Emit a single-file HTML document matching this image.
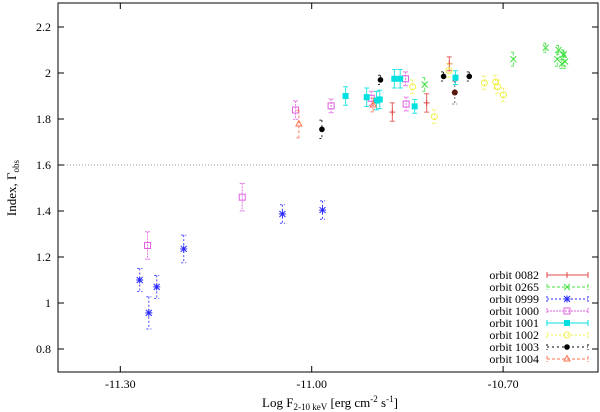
<!DOCTYPE html>
<html><head><meta charset="utf-8">
<style>
body{margin:0;background:#fff;}
svg{display:block;font-family:"Liberation Serif",serif;}
</style></head>
<body>
<svg id="chart" width="600" height="412" xmlns="http://www.w3.org/2000/svg"></svg>
<script>
const xTicks=[-11.30,-11.00,-10.70];
const xTickLabels=["-11.30","-11.00","-10.70"];
const yTicks=[0.8,1,1.2,1.4,1.6,1.8,2,2.2];
const yTickLabels=["0.8","1","1.2","1.4","1.6","1.8","2","2.2"];
const seriesNames=["orbit 0082","orbit 0265","orbit 0999","orbit 1000","orbit 1001","orbit 1002","orbit 1003","orbit 1004"];
const x0082=[-10.8736,-10.8198,-10.7843];
const y0082=[1.83,1.87,2.04];
const e0082=[0.04,0.04,0.03];
const x0265=[-10.8229,-10.6839,-10.6332,-10.6130,-10.6150,-10.6059,-10.6028,-10.6079,-10.6049];
const y0265=[1.95,2.06,2.11,2.10,2.06,2.08,2.05,2.04,2.08];
const e0265=[0.03,0.03,0.02,0.02,0.03,0.02,0.03,0.02,0.02];
const x0999=[-11.2696,-11.2553,-11.2429,-11.2006,-11.0459,-10.9830];
const y0999=[1.10,0.957,1.07,1.235,1.387,1.404];
const e0999=[0.05,0.07,0.05,0.06,0.04,0.04];
const x1000=[-11.2573,-11.1089,-11.0253,-10.9696,-10.9066,-10.8530,-10.8520];
const y1000=[1.25,1.46,1.839,1.857,1.89,1.975,1.865];
const e1000=[0.06,0.06,0.04,0.03,0.03,0.03,0.03];
const x1001=[-10.9469,-10.9138,-10.8984,-10.8933,-10.8705,-10.8613,-10.8386,-10.7746];
const y1001=[1.90,1.895,1.88,1.885,1.975,1.975,1.855,1.98];
const e1001=[0.04,0.04,0.04,0.04,0.04,0.04,0.03,0.03];
const x1002=[-10.8417,-10.8077,-10.7849,-10.7293,-10.7117,-10.7087,-10.6994];
const y1002=[1.94,1.81,2.01,1.957,1.961,1.94,1.905];
const e1002=[0.03,0.03,0.03,0.03,0.03,0.03,0.03];
const x1003=[-10.9840,-10.8922,-10.7933,-10.7530];
const y1003=[1.755,1.970,1.985,1.985];
const e1003=[0.04,0.02,0.02,0.02];
const x1003b=[-10.7757];
const y1003b=[1.915];
const e1003b=[0.05];
const x1004=[-11.0201,-10.9036];
const y1004=[1.778,1.861];
const e1004=[0.06,0.03];

const L=58,R=598,T=3,B=372;
function sx(v){return 311.7+(v+11.0)*638;}
function sy(v){return 73+(2.0-v)*230;}
const svg=document.getElementById('chart');
const NS="http://www.w3.org/2000/svg";
function mk(tag,attrs,parent){const e=document.createElementNS(NS,tag);for(const k in attrs)e.setAttribute(k,attrs[k]);(parent||svg).appendChild(e);return e;}

const frame=mk('rect',{x:L,y:T,width:R-L,height:B-T,fill:'none',stroke:'#000','stroke-width':1});


const ref=mk('line',{x1:L,x2:R,y1:sy(1.6),y2:sy(1.6),stroke:'#999','stroke-dasharray':'1,2'});



yTicks.forEach((v,i)=>{
  const y=sy(v);
  mk('line',{x1:L,x2:L+6,y1:y,y2:y,stroke:'#000'});
  mk('line',{x1:R-6,x2:R,y1:y,y2:y,stroke:'#000'});
  const t=mk('text',{x:L-7,y:y+4,'text-anchor':'end','font-size':12});
  t.textContent=yTickLabels[i];
  
  
});
xTicks.forEach((v,i)=>{
  const x=sx(v);
  mk('line',{x1:x,x2:x,y1:B,y2:B-6,stroke:'#000'});
  mk('line',{x1:x,x2:x,y1:T,y2:T+6,stroke:'#000'});
  const t=mk('text',{x:x,y:B+16,'text-anchor':'middle','font-size':12});
  t.textContent=xTickLabels[i];
  
  
});

const xt=mk('text',{x:330,y:407,'text-anchor':'middle','font-size':13});
xt.innerHTML='Log F<tspan font-size="9" dy="3">2-10 keV</tspan><tspan dy="-3"> [erg cm</tspan><tspan font-size="9" dy="-5">-2</tspan><tspan dy="5"> s</tspan><tspan font-size="9" dy="-5">-1</tspan><tspan dy="5">]</tspan>';


const yt=mk('text',{x:0,y:0,'text-anchor':'middle','font-size':13,transform:'translate(16,188) rotate(-90)'});
yt.innerHTML='Index, Γ<tspan font-size="9" dy="3">obs</tspan>';



const colors=['#e04848','#40e040','#2828ff','#e060e0','#00e0e0','#f0f048','#000','#ff7050'];
const dashes=['','3,2','2,2','2,1','','2,2','2,3','3,2'];
function marker(kind,x,y,c,g){
  if(kind==='plus'){mk('line',{x1:x-3,x2:x+3,y1:y,y2:y,stroke:c},g);mk('line',{x1:x,x2:x,y1:y-3,y2:y+3,stroke:c},g);}
  else if(kind==='x'){mk('path',{d:`M${x-3},${y-3}L${x+3},${y+3}M${x-3},${y+3}L${x+3},${y-3}`,stroke:c},g);}
  else if(kind==='star'){mk('path',{d:`M${x-3},${y-3}L${x+3},${y+3}M${x-3},${y+3}L${x+3},${y-3}M${x-3.5},${y}L${x+3.5},${y}M${x},${y-3.5}L${x},${y+3.5}`,stroke:c},g);}
  else if(kind==='osq'){mk('rect',{x:x-3,y:y-3,width:6,height:6,fill:'none',stroke:c},g);}
  else if(kind==='fsq'){mk('rect',{x:x-3,y:y-3,width:6,height:6,fill:c},g);}
  else if(kind==='ocirc'){mk('circle',{cx:x,cy:y,r:3,fill:'none',stroke:c},g);}
  else if(kind==='fcirc'){mk('circle',{cx:x,cy:y,r:2.8,fill:c},g);}
  else if(kind==='tri'){mk('path',{d:`M${x},${y-3.5}L${x+3},${y+2}L${x-3},${y+2}Z`,fill:'none',stroke:c},g);}
}
const kinds=['plus','x','star','osq','fsq','ocirc','fcirc','tri'];
const data=[[x0082,y0082,e0082],[x0265,y0265,e0265],[x0999,y0999,e0999],[x1000,y1000,e1000],[x1001,y1001,e1001],[x1002,y1002,e1002],[x1003,y1003,e1003],[x1004,y1004,e1004]];
data.forEach((d,si)=>{
  const g=mk('g',{});
  
  
  d[0].forEach((xv,i)=>{
    const x=sx(xv),y=sy(d[1][i]),e=d[2][i]*230;
    const c=colors[si];
    const p=mk('path',{d:`M${x},${y-e}L${x},${y+e}M${x-2.5},${y-e}L${x+2.5},${y-e}M${x-2.5},${y+e}L${x+2.5},${y+e}`,stroke:c,'stroke-dasharray':dashes[si],fill:'none','stroke-opacity':0.85},g);
    
    
    marker(kinds[si],x,y,c,g);
  });
});
x1003b.forEach((xv,i)=>{
  const x=sx(xv),y=sy(y1003b[i]),e=e1003b[i]*230;
  const p=mk('path',{d:`M${x},${y-e}L${x},${y+e}M${x-2.5},${y-e}L${x+2.5},${y-e}M${x-2.5},${y+e}L${x+2.5},${y+e}`,stroke:'#777','stroke-dasharray':'2,2',fill:'none'});
  
  
  const c=mk('circle',{cx:x,cy:y,r:3,fill:'#5a1a10'});
  
  
});

seriesNames.forEach((n,i)=>{
  const y=275+i*12;
  const g=mk('g',{});
  
  
  const t=mk('text',{x:539,y:y+4,'text-anchor':'end','font-size':12},g);
  t.textContent=n;
  const c=colors[i];
  mk('path',{d:`M547,${y}L588,${y}M547,${y-3}L547,${y+3}M588,${y-3}L588,${y+3}`,stroke:c,'stroke-dasharray':dashes[i],fill:'none'},g);
  marker(kinds[i],567,y,c,g);
});
</script>
</body></html>
